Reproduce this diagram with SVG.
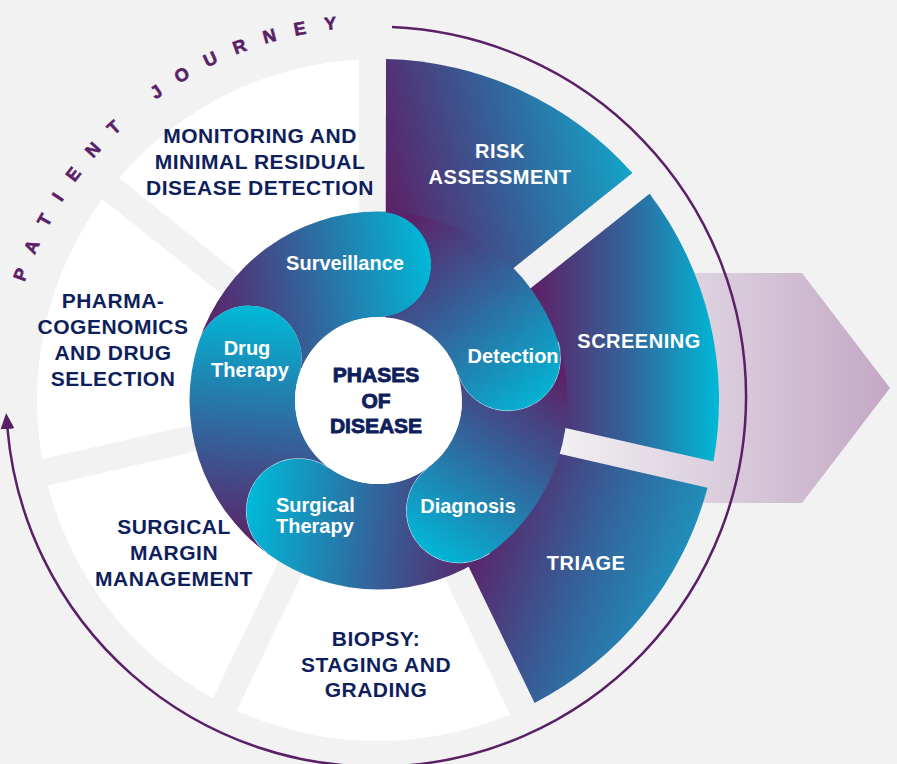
<svg xmlns="http://www.w3.org/2000/svg" width="897" height="764" viewBox="0 0 897 764">
<defs>
<style>
.navy{font-family:"Liberation Sans",Arial,sans-serif;font-weight:700;font-size:21px;fill:#0f1f5c;text-anchor:middle;letter-spacing:0.5px}
.wout{font-family:"Liberation Sans",Arial,sans-serif;font-weight:700;font-size:20px;fill:#ffffff;text-anchor:middle;letter-spacing:0.5px}
.win{font-family:"Liberation Sans",Arial,sans-serif;font-weight:700;font-size:20px;fill:#ffffff;text-anchor:middle}
.core{font-family:"Liberation Sans",Arial,sans-serif;font-weight:700;font-size:21px;fill:#0f1f5c;stroke:#0f1f5c;stroke-width:0.9;text-anchor:middle}
.journey{font-family:"Liberation Sans",Arial,sans-serif;font-weight:700;font-size:18px;fill:#5b1f68;stroke:#5b1f68;stroke-width:0.6;letter-spacing:18.3px}
.white{fill:#ffffff}
.capline{fill:none;stroke:#e6f3f7;stroke-width:1;opacity:0.8}
</style>
<linearGradient id="gRisk" gradientUnits="userSpaceOnUse" x1="390" y1="225" x2="640" y2="165">
<stop offset="0" stop-color="#5c2167"/><stop offset="0.5" stop-color="#34629a"/><stop offset="1" stop-color="#12a9cb"/>
</linearGradient>
<linearGradient id="gScreen" gradientUnits="userSpaceOnUse" x1="535" y1="330" x2="717" y2="330">
<stop offset="0" stop-color="#5c2167"/><stop offset="0.5" stop-color="#34629a"/><stop offset="1" stop-color="#00b7d6"/>
</linearGradient>
<linearGradient id="gTriage" gradientUnits="userSpaceOnUse" x1="470" y1="540" x2="690" y2="620">
<stop offset="0" stop-color="#5c2167"/><stop offset="0.5" stop-color="#34629a"/><stop offset="1" stop-color="#1a9cc5"/>
</linearGradient>
<linearGradient id="gSurv" gradientUnits="userSpaceOnUse" x1="200" y1="300" x2="432" y2="265">
<stop offset="0" stop-color="#5c2167"/><stop offset="0.45" stop-color="#34629a"/><stop offset="1" stop-color="#00b9d8"/>
</linearGradient>
<linearGradient id="gDet" gradientUnits="userSpaceOnUse" x1="400" y1="225" x2="550" y2="405">
<stop offset="0" stop-color="#5c2167"/><stop offset="0.45" stop-color="#34629a"/><stop offset="1" stop-color="#00b9d8"/>
</linearGradient>
<linearGradient id="gDiag" gradientUnits="userSpaceOnUse" x1="555" y1="370" x2="430" y2="560">
<stop offset="0" stop-color="#5c2167"/><stop offset="0.45" stop-color="#34629a"/><stop offset="1" stop-color="#00b9d8"/>
</linearGradient>
<linearGradient id="gSurg" gradientUnits="userSpaceOnUse" x1="485" y1="540" x2="248" y2="515">
<stop offset="0" stop-color="#5c2167"/><stop offset="0.45" stop-color="#34629a"/><stop offset="1" stop-color="#00b9d8"/>
</linearGradient>
<linearGradient id="gDrug" gradientUnits="userSpaceOnUse" x1="235" y1="545" x2="258" y2="306">
<stop offset="0" stop-color="#5c2167"/><stop offset="0.45" stop-color="#34629a"/><stop offset="1" stop-color="#00b9d8"/>
</linearGradient>
<linearGradient id="gChevron" gradientUnits="userSpaceOnUse" x1="560" y1="0" x2="890" y2="0">
<stop offset="0" stop-color="#f1f0f2"/><stop offset="1" stop-color="#c3a8c5"/>
</linearGradient>
<marker id="arrow" markerUnits="userSpaceOnUse" markerWidth="16" markerHeight="14" viewBox="0 0 16 14" refX="1" refY="7" orient="auto">
<path d="M0,0 L16,7 L0,14 z" fill="#5b1f68"/>
</marker>
<path id="journeyPath" d="M 12.61 331.92 A 369 369 0 0 1 408.16 28.41"/>
</defs>

<rect x="0" y="0" width="897" height="764" fill="#f2f2f2"/>

<g id="chevron">
<polygon points="500,273 802,273 890,388 802,503 500,503" fill="url(#gChevron)"/>
</g>

<g id="seg-risk-assessment">
<path d="M 385.5 370.5 L 386 59.09 A 341 341 0 0 1 632.42 172.95 Z" fill="url(#gRisk)"/>
<text class="wout" x="500" y="158">RISK</text>
<text class="wout" x="500" y="184">ASSESSMENT</text>
</g>
<g id="seg-screening">
<path d="M 401.7 390.8 L 649.59 193.8 A 341 341 0 0 1 713.42 461.46 Z" fill="url(#gScreen)"/>
<text class="wout" x="639" y="348">SCREENING</text>
</g>
<g id="seg-triage">
<path d="M 395.9 416.2 L 707.5 487.81 A 341 341 0 0 1 534.57 702.93 Z" fill="url(#gTriage)"/>
<text class="wout" x="586" y="570">TRIAGE</text>
</g>
<g id="seg-biopsy">
<path class="white" d="M 372.5 427.5 L 510.11 714.37 A 341 341 0 0 1 236.8 710.39 Z"/>
<text class="navy" x="376" y="646">BIOPSY:</text>
<text class="navy" x="376" y="672">STAGING AND</text>
<text class="navy" x="376" y="697">GRADING</text>
</g>
<g id="seg-surgical-margin">
<path class="white" d="M 349.1 416.2 L 212.69 698.25 A 341 341 0 0 1 47.88 485.44 Z"/>
<text class="navy" x="174" y="534">SURGICAL</text>
<text class="navy" x="174" y="560">MARGIN</text>
<text class="navy" x="174" y="586">MANAGEMENT</text>
</g>
<g id="seg-pharmacogenomics">
<path class="white" d="M 343.3 390.8 L 42.15 459.05 A 341 341 0 0 1 102.32 199.3 Z"/>
<text class="navy" x="113" y="308">PHARMA-</text>
<text class="navy" x="113" y="334">COGENOMICS</text>
<text class="navy" x="113" y="360">AND DRUG</text>
<text class="navy" x="113" y="386">SELECTION</text>
</g>
<g id="seg-monitoring">
<path class="white" d="M 359.5 370.5 L 119.06 178.12 A 341 341 0 0 1 359 59.53 Z"/>
<text class="navy" x="260" y="143">MONITORING AND</text>
<text class="navy" x="260" y="169">MINIMAL RESIDUAL</text>
<text class="navy" x="260" y="195">DISEASE DETECTION</text>
</g>

<g id="phase-surveillance">
<path d="M 198.75 342.1 A 189 189 0 0 1 378.5 211.5 A 52.75 52.75 0 0 1 378.5 317 A 83.5 83.5 0 0 0 299.09 374.7 A 52.75 52.75 0 0 0 198.75 342.1 Z" fill="url(#gSurv)"/>
<text class="win" x="345" y="270">Surveillance</text>
</g>
<g id="phase-detection">
<path d="M 378.5 211.5 A 189 189 0 0 1 558.25 342.1 A 52.75 52.75 0 0 1 457.91 374.7 A 83.5 83.5 0 0 0 378.5 317 A 52.75 52.75 0 0 0 378.5 211.5 Z" fill="url(#gDet)"/>
<path class="capline" d="M 558.25 342.1 A 52.75 52.75 0 0 1 457.91 374.7"/>
<text class="win" x="513" y="363">Detection</text>
</g>
<g id="phase-diagnosis">
<path d="M 558.25 342.1 A 189 189 0 0 1 489.59 553.4 A 52.75 52.75 0 0 1 427.58 468.05 A 83.5 83.5 0 0 0 457.91 374.7 A 52.75 52.75 0 0 0 558.25 342.1 Z" fill="url(#gDiag)"/>
<path class="capline" d="M 489.59 553.4 A 52.75 52.75 0 0 1 427.58 468.05"/>
<text class="win" x="468" y="513">Diagnosis</text>
</g>
<g id="phase-surgical-therapy">
<path d="M 489.59 553.4 A 189 189 0 0 1 267.41 553.4 A 52.75 52.75 0 0 1 329.42 468.05 A 83.5 83.5 0 0 0 427.58 468.05 A 52.75 52.75 0 0 0 489.59 553.4 Z" fill="url(#gSurg)"/>
<path class="capline" d="M 267.41 553.4 A 52.75 52.75 0 0 1 329.42 468.05"/>
<text class="win" x="276" y="512" style="text-anchor:start">Surgical</text>
<text class="win" x="276" y="533" style="text-anchor:start">Therapy</text>
</g>
<g id="phase-drug-therapy">
<path d="M 267.41 553.4 A 189 189 0 0 1 198.75 342.1 A 52.75 52.75 0 0 1 299.09 374.7 A 83.5 83.5 0 0 0 329.42 468.05 A 52.75 52.75 0 0 0 267.41 553.4 Z" fill="url(#gDrug)"/>
<text class="win" x="247" y="355">Drug</text>
<text class="win" x="250" y="377">Therapy</text>
</g>

<g id="phases-of-disease">
<circle cx="378.5" cy="400.5" r="83.5" fill="#ffffff"/>
<text class="core" x="376" y="382">PHASES</text>
<text class="core" x="376" y="408">OF</text>
<text class="core" x="376" y="433">DISEASE</text>
</g>

<g id="connectors">
<path d="M 392 27 A 370 370 0 1 1 7.4 428" fill="none" stroke="#5b1f68" stroke-width="2.5" marker-end="url(#arrow)"/>
</g>

<g id="patient-journey-label">
<text class="journey"><textPath href="#journeyPath" startOffset="51">PATIENT</textPath></text>
<text class="journey"><textPath href="#journeyPath" startOffset="279">JOURNEY</textPath></text>
</g>
</svg>
